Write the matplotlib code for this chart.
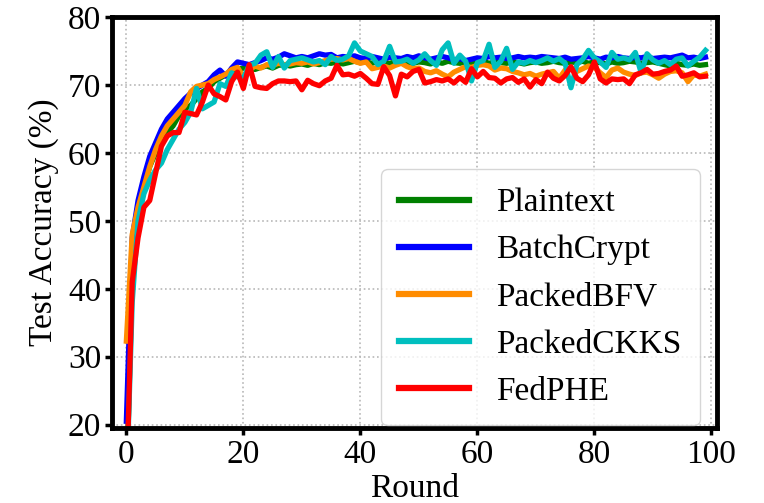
import matplotlib
matplotlib.use("Agg")
import matplotlib.pyplot as plt
import numpy as np

rounds = list(range(100))

plaintext = [10, 42, 51, 55, 58, 60, 61.5, 63, 64, 65.5,
             66.5, 67, 68, 69, 69.5, 70.5, 71, 71.5, 72, 72.3,
             72.5, 72.4, 72.3, 72.6, 72.8, 72.5, 72.9, 73.0, 72.8, 73.0,
             73.1, 72.9, 73.2, 73.0, 73.3, 73.2, 73.4, 73.1, 73.3, 73.5,
             73.3, 73.4, 73.2, 73.5, 73.3, 73.2, 73.4, 73.6, 73.3, 73.2,
             73.4, 73.3, 73.1, 73.4, 73.2, 73.5, 73.3, 73.2, 73.4, 73.1,
             73.3, 73.5, 73.2, 73.4, 73.3, 73.2, 73.4, 73.3, 73.1, 73.3,
             73.4, 73.2, 73.3, 73.5, 73.3, 73.2, 73.4, 73.3, 73.5, 73.2,
             73.4, 73.3, 73.1, 73.4, 73.2, 73.3, 73.5, 73.4, 73.2, 73.3,
             73.4, 73.2, 73.0, 72.8, 73.2, 73.0, 72.9, 73.1, 72.9, 73.0]

batchcrypt = [20.5, 47.5, 53, 56.5, 59.5, 61.5, 63.5, 65, 66, 67,
              68, 68.8, 69.5, 70, 70.5, 71.5, 72.2, 71.3, 72.5, 73.4,
              73.2, 73.0, 73.3, 73.6, 74.0, 73.8, 74.1, 74.6, 74.3, 74.0,
              74.2, 74.0, 74.3, 74.6, 74.4, 74.5, 74.0, 74.2, 74.1, 74.3,
              74.0, 73.9, 74.2, 74.0, 73.8, 74.1, 74.0, 73.9, 74.2, 74.0,
              74.3, 74.0, 73.8, 74.0, 74.2, 74.0, 73.7, 73.9, 73.6, 73.8,
              74.0, 73.9, 74.2, 74.0, 74.1, 73.9, 74.0, 74.2, 74.0, 74.1,
              74.0, 74.2, 74.1, 74.0, 73.9, 74.1, 73.8, 73.9, 74.0, 74.2,
              74.0, 73.8, 74.1, 74.0, 74.2, 74.0, 73.9, 74.1, 74.0, 74.2,
              73.9, 74.0, 74.1, 74.0, 74.2, 74.4, 74.0, 74.1, 73.9, 74.1]

packedbfv = [32.3, 48, 52, 55, 58, 60.5, 62.5, 64, 65, 66,
             67, 69, 69.8, 70, 70.2, 70.8, 71.2, 71.6, 72.3, 72.6,
             71.2, 72.2, 72.8, 72.5, 73.0, 72.9, 73.2, 73.0, 73.1, 73.3,
             73.2, 73.4, 73.1, 73.3, 73.6, 73.8, 73.9, 73.7, 73.9, 73.5,
             73.2, 73.4, 72.4, 72.6, 72.8, 72.5, 72.9, 73.2, 72.7, 72.4,
             72.5, 72.0, 71.8, 72.1, 71.6, 71.2, 71.9, 72.3, 72.7, 72.6,
             72.9, 73.0, 72.8, 72.2, 72.5, 72.4, 72.0, 71.8, 71.5, 71.7,
             71.3, 71.6, 71.8, 72.0, 71.0, 72.2, 72.3, 72.0, 72.4, 72.8,
             72.6, 71.8, 71.1, 72.2, 72.5, 71.9, 71.6, 71.4, 71.8, 71.9,
             71.5, 71.0, 71.6, 72.0, 72.1, 71.8, 70.5, 71.5, 71.3, 71.6]

packedckks = [10, 38, 50, 54, 56, 57.5, 58.5, 60.5, 62, 63.5,
              64.5, 66, 69.5, 66.5, 67, 67.5, 70.2, 69.8, 71.8, 71.2,
              71.0, 72.9, 73.2, 74.4, 74.9, 72.6, 74.2, 72.5, 73.6, 73.8,
              74.0, 73.7, 73.4, 73.6, 73.0, 74.2, 73.6, 73.8, 74.3, 76.2,
              75.0, 74.6, 74.2, 73.0, 73.5, 75.7, 73.4, 73.5, 73.8, 73.2,
              73.7, 74.6, 73.6, 72.9, 75.2, 76.2, 73.2, 74.4, 73.5, 70.6,
              73.3, 73.6, 76.0, 72.6, 73.5, 75.4, 72.3, 73.4, 73.2, 73.6,
              73.3, 73.6, 74.0, 73.5, 73.9, 73.2, 69.6, 73.0, 73.8, 75.1,
              74.0, 73.4, 72.6, 74.8, 73.8, 74.0, 73.7, 74.8, 71.8, 74.6,
              73.7, 73.2, 73.6, 73.0, 73.8, 74.0, 72.8, 73.5, 74.1, 75.1]

fedphe = [10, 41, 47.5, 52, 53, 57, 61, 62.5, 63, 63,
          66, 65.8, 65.6, 67.5, 70, 68.7, 68.3, 67.8, 70.5, 71.9,
          69.5, 73.0, 69.8, 69.6, 69.5, 70.2, 70.6, 70.6, 70.5, 70.6,
          69.3, 70.7, 70.2, 69.9, 70.6, 71.0, 72.9, 71.5, 71.6, 71.3,
          71.7, 71.0, 70.2, 70.1, 72.7, 71.4, 68.4, 71.6, 71.2, 72.0,
          72.3, 70.3, 70.5, 70.8, 70.6, 70.9, 70.3, 71.1, 70.4, 72.4,
          71.2, 72.0, 71.1, 71.0, 70.3, 70.9, 71.1, 70.4, 70.9, 69.7,
          70.8, 70.2, 71.9, 71.0, 70.6, 71.4, 72.7, 71.0, 70.5, 71.5,
          73.4, 70.9, 70.3, 70.9, 70.8, 70.9, 70.2, 71.5, 71.8, 72.3,
          71.6, 71.7, 72.0, 72.2, 72.8, 71.3, 71.5, 71.8, 71.2, 71.3]

series_names = ["Plaintext", "BatchCrypt", "PackedBFV", "PackedCKKS", "FedPHE"]
series_values = [plaintext, batchcrypt, packedbfv, packedckks, fedphe]
series_colors = ["green", "blue", "darkorange", "c", "red"]

x_ticks = [0, 20, 40, 60, 80, 100]
y_ticks = [20, 30, 40, 50, 60, 70, 80]

plt.rcParams['font.family'] = ['Liberation Serif', 'DejaVu Serif']

fig = plt.figure(figsize=(7.64, 5.03), dpi=100)
ax = fig.add_axes([0.147, 0.149, 0.791, 0.817])

for name, vals, col in zip(series_names, series_values, series_colors):
    ax.plot(rounds, vals, color=col, lw=3.8, label=name)

ax.set_xlim(-2.4, 100.9)
ax.set_ylim(19.5, 80)
ax.set_xticks(x_ticks)
ax.set_yticks(y_ticks)
ax.tick_params(labelsize=24, width=2.5, length=5, pad=3)
ax.set_xlabel("Round", fontsize=24, labelpad=3)
ax.set_ylabel("Test Accuracy (%)", fontsize=24, labelpad=6)
ax.grid(True, linestyle=':', color='#b8b8b8', lw=1.2)
for sp in ax.spines.values():
    sp.set_linewidth(3.5)

leg = ax.legend(loc='lower right', fontsize=24, handlelength=2.1,
                labelspacing=0.5, borderpad=0.55, handletextpad=0.8,
                borderaxespad=0, bbox_to_anchor=(0.972, 0.007))
for l in leg.get_lines():
    l.set_linewidth(4.5)

fig.savefig("out.png", dpi=100)
